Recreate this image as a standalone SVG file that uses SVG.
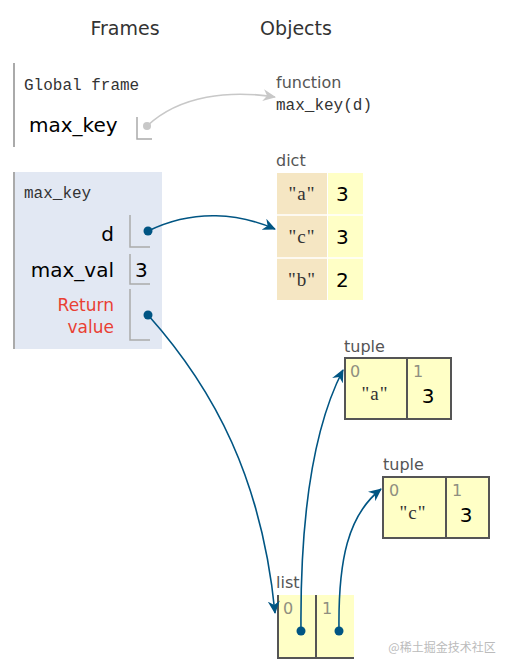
<svg xmlns="http://www.w3.org/2000/svg" width="506" height="670" viewBox="0 0 506 670">
<style>
.hdr{font-family:"DejaVu Sans",Verdana,sans-serif;font-size:19px;fill:#333}
.mono{font-family:"Liberation Mono","DejaVu Sans Mono",monospace;font-size:16px;fill:#333}
.var{font-family:"DejaVu Sans",Verdana,sans-serif;font-size:20px;fill:#000}
.ret{font-family:"DejaVu Sans",Verdana,sans-serif;font-size:17px;fill:#e93f34}
.lbl{font-family:"DejaVu Sans",Verdana,sans-serif;font-size:16px;fill:#555}
.num{font-family:"DejaVu Sans",Verdana,sans-serif;font-size:20px;fill:#000}
.str{font-family:"Liberation Serif","DejaVu Serif",serif;font-size:19px;fill:#333;letter-spacing:1px}
.idx{font-family:"DejaVu Sans",Verdana,sans-serif;font-size:16px;fill:#8f8f80}
.box{fill:none;stroke:#aaa;stroke-width:1.5}
.obj{fill:#ffffc6;stroke:#555;stroke-width:2}
.arr{fill:none;stroke:#005583;stroke-width:1.6}
</style>
<defs>
<marker id="ab" markerWidth="14" markerHeight="12" refX="12" refY="6" orient="auto" markerUnits="userSpaceOnUse">
<path d="M0,0 L13,6 L0,12 L4,6 z" fill="#005583"/>
</marker>
<marker id="ag" markerWidth="14" markerHeight="12" refX="12" refY="6" orient="auto" markerUnits="userSpaceOnUse">
<path d="M0,0 L13,6 L0,12 L4,6 z" fill="#c8c8c8"/>
</marker>
</defs>
<text class="hdr" x="125" y="35" text-anchor="middle">Frames</text>
<text class="hdr" x="296" y="35" text-anchor="middle">Objects</text>

<g id="global-frame">
<rect x="13" y="63" width="2" height="84" fill="#aaa"/>
<text class="mono" x="24" y="90">Global frame</text>
<text class="var" x="29" y="132">max_key</text>
<path class="box" d="M137,117 V139 H152"/>
<circle cx="147" cy="126" r="4" fill="#c8c8c8"/>
</g>

<g id="frame-max_key">
<rect x="13" y="172" width="149" height="177" fill="#e2e8f3"/>
<rect x="13" y="172" width="2" height="177" fill="#aaa"/>
<text class="mono" x="24" y="198">max_key</text>
<text class="var" x="114" y="241" text-anchor="end">d</text>
<path class="box" d="M130,215 V247 H150"/>
<circle cx="148" cy="231" r="4.5" fill="#005583"/>
<text class="var" x="114" y="277" text-anchor="end">max_val</text>
<path class="box" d="M130,254 V284 H150"/>
<text class="num" x="135" y="277">3</text>
<text class="ret" x="114" y="311" text-anchor="end">Return</text>
<text class="ret" x="114" y="333" text-anchor="end">value</text>
<path class="box" d="M130,289 V340 H150"/>
<circle cx="148" cy="315" r="4.5" fill="#005583"/>
</g>

<g id="function">
<text class="lbl" x="276" y="88">function</text>
<text class="mono" x="276" y="110">max_key(d)</text>
</g>

<g id="dict">
<text class="lbl" x="276" y="166">dict</text>
<rect x="277" y="173" width="50" height="127" fill="#f5e6c3"/>
<rect x="328" y="173" width="35" height="127" fill="#ffffc6"/>
<line x1="277" y1="215" x2="363" y2="215" stroke="#fff" stroke-width="1.5"/>
<line x1="277" y1="258" x2="363" y2="258" stroke="#fff" stroke-width="1.5"/>
<text class="str" x="302" y="200" text-anchor="middle">"a"</text>
<text class="num" x="336" y="201">3</text>
<text class="str" x="302" y="243" text-anchor="middle">"c"</text>
<text class="num" x="336" y="244">3</text>
<text class="str" x="302" y="286" text-anchor="middle">"b"</text>
<text class="num" x="336" y="287">2</text>
</g>

<g id="tuple1">
<text class="lbl" x="344" y="352">tuple</text>
<rect class="obj" x="345" y="358" width="106" height="61"/>
<line x1="407" y1="358" x2="407" y2="419" stroke="#555" stroke-width="2"/>
<text class="idx" x="350" y="377">0</text>
<text class="idx" x="413" y="377">1</text>
<text class="str" x="375" y="400" text-anchor="middle">"a"</text>
<text class="num" x="428" y="403" text-anchor="middle">3</text>
</g>

<g id="tuple2">
<text class="lbl" x="383" y="470">tuple</text>
<rect class="obj" x="383" y="477" width="106" height="61"/>
<line x1="446" y1="477" x2="446" y2="538" stroke="#555" stroke-width="2"/>
<text class="idx" x="389" y="496">0</text>
<text class="idx" x="452" y="496">1</text>
<text class="str" x="413" y="519" text-anchor="middle">"c"</text>
<text class="num" x="466" y="522" text-anchor="middle">3</text>
</g>

<g id="list">
<text class="lbl" x="276" y="588">list</text>
<rect x="277" y="595" width="77" height="63" fill="#ffffc6"/>
<path d="M278,595 V658 H354 M316,595 V658" fill="none" stroke="#555" stroke-width="2"/>
<text class="idx" x="283" y="614">0</text>
<text class="idx" x="322" y="614">1</text>
<circle cx="301" cy="631" r="4.5" fill="#005583"/>
<circle cx="339" cy="631" r="4.5" fill="#005583"/>
</g>

<g id="connectors">
<path d="M147,126 C180,95 230,90 275,97" fill="none" stroke="#c8c8c8" stroke-width="1.6" marker-end="url(#ag)"/>
<path class="arr" d="M148,231 C195,208 240,214 275,229" marker-end="url(#ab)"/>
<path class="arr" d="M148,315 C215,390 262,480 275,613" marker-end="url(#ab)"/>
<path class="arr" d="M301,631 C300,520 312,430 343,370" marker-end="url(#ab)"/>
<path class="arr" d="M339,631 C338,560 348,515 381,489" marker-end="url(#ab)"/>
</g>

<text x="442" y="652" text-anchor="middle" font-family="'Noto Sans CJK SC',sans-serif" font-size="12" fill="#bbb">@稀土掘金技术社区</text>
</svg>
